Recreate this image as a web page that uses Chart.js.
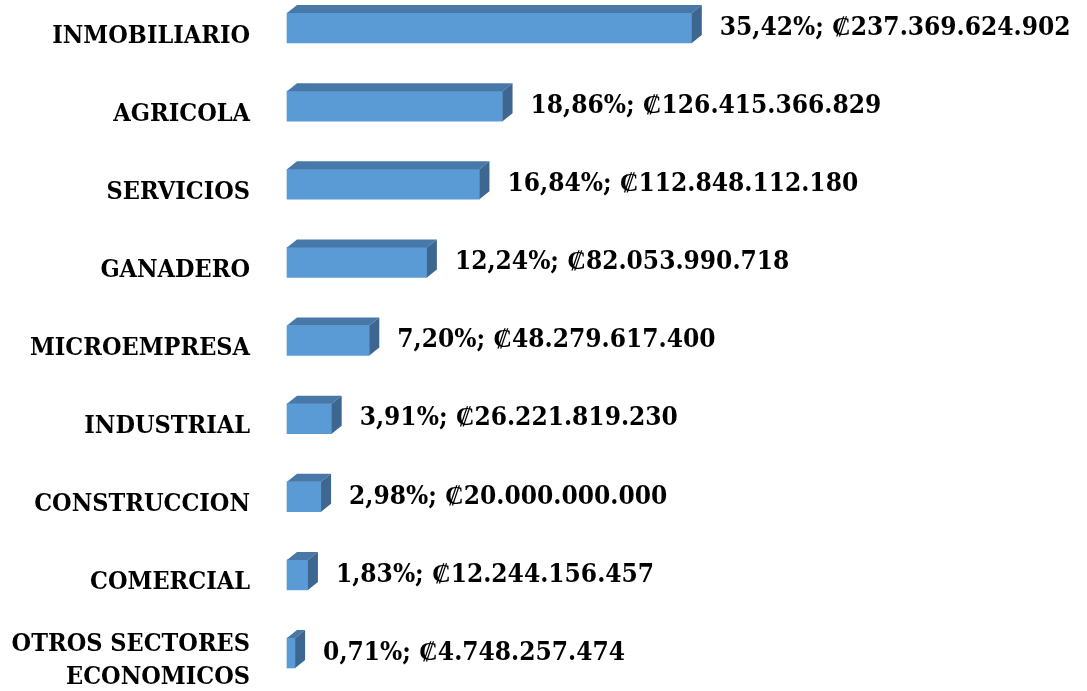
<!DOCTYPE html>
<html>
<head>
<meta charset="utf-8">
<script src="https://cdn.jsdelivr.net/npm/chart.js@4/dist/chart.umd.min.js"></script>
<style>
  html, body { margin: 0; padding: 0; background: #fff; }
  #wrap { width: 1087px; height: 691px; position: relative; }
</style>
</head>
<body>
<div id="wrap"><canvas id="sectorChart"></canvas></div>
<script>
// data
const sectores = [
    "INMOBILIARIO", "AGRICOLA", "SERVICIOS", "GANADERO", "MICROEMPRESA",
    "INDUSTRIAL", "CONSTRUCCION", "COMERCIAL", ["OTROS SECTORES", "ECONOMICOS"]
]
const porcentajes = [35.42, 18.86, 16.84, 12.24, 7.20, 3.91, 2.98, 1.83, 0.71]
const montos = [
    "237.369.624.902", "126.415.366.829", "112.848.112.180", "82.053.990.718", "48.279.617.400",
    "26.221.819.230", "20.000.000.000", "12.244.156.457", "4.748.257.474"
]

const FONT = "'DejaVu Serif Condensed', 'DejaVu Serif', serif"
const DX = 10, DY = 8

// 3D faces + value labels
const bar3d = {
    id: "bar3d",
    afterDatasetsDraw(chart) {
        const ctx = chart.ctx
        const meta = chart.getDatasetMeta(0)
        ctx.save()
        meta.data.forEach((bar, i) => {
            const x0 = bar.base, x1 = bar.x
            const top = bar.y - bar.height / 2, bottom = bar.y + bar.height / 2
            // top face
            ctx.fillStyle = "#4878a8"
            ctx.beginPath()
            ctx.moveTo(x0, top)
            ctx.lineTo(x0 + DX, top - DY)
            ctx.lineTo(x1 + DX, top - DY)
            ctx.lineTo(x1, top)
            ctx.closePath()
            ctx.fill()
            // side face
            ctx.fillStyle = "#3d6690"
            ctx.beginPath()
            ctx.moveTo(x1, top)
            ctx.lineTo(x1 + DX, top - DY)
            ctx.lineTo(x1 + DX, bottom - DY)
            ctx.lineTo(x1, bottom)
            ctx.closePath()
            ctx.fill()

            // label
            const pct = porcentajes[i].toFixed(2).replace(".", ",")
            ctx.fillStyle = "#000"
            ctx.font = "bold 26px " + FONT
            ctx.textAlign = "left"
            ctx.textBaseline = "middle"
            ctx.fillText(pct + "%; \u20A1" + montos[i], x1 + 28, bar.y)
        })
        ctx.restore()
    }
}

new Chart(document.getElementById("sectorChart"), {
    type: "bar",
    data: {
        labels: sectores,
        datasets: [{
            data: porcentajes,
            backgroundColor: "#5b9bd5",
            borderWidth: 0,
            barThickness: 30,
            clip: false
        }]
    },
    options: {
        indexAxis: "y",
        responsive: true,
        maintainAspectRatio: false,
        animation: false,
        layout: { padding: { top: 28, bottom: 38, left: 0, right: 0 } },
        plugins: { legend: { display: false }, tooltip: { enabled: false } },
        scales: {
            x: { display: false, min: 0, max: 70 },
            y: {
                offset: false,
                grid: { display: false, drawTicks: false },
                border: { display: false },
                afterFit(scale) {
                    scale.width = 287
                    scale.paddingTop = 0
                    scale.paddingBottom = 0
                },
                ticks: {
                    autoSkip: false,
                    padding: 37,
                    labelOffset: 8,
                    color: "#000",
                    font: { family: FONT, size: 25, weight: "bold", lineHeight: 1.3 }
                }
            }
        }
    },
    plugins: [bar3d]
})
</script>
</body>
</html>
